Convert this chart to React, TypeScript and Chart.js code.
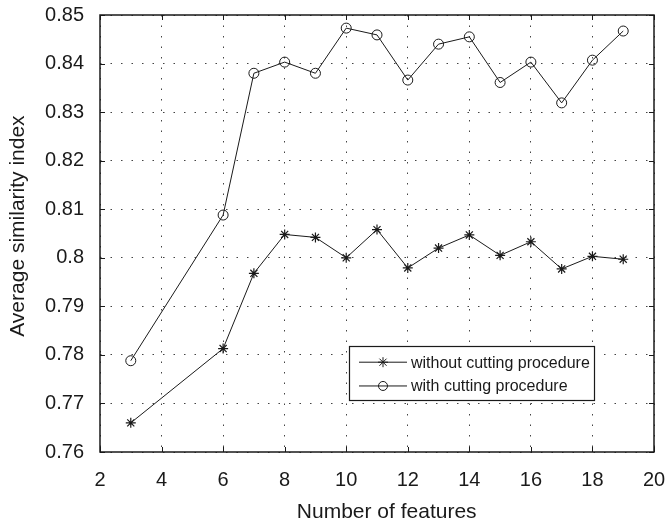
import React, { useEffect, useRef } from "react";
import { Chart, registerables } from "chart.js";

Chart.register(...registerables);

const features = [3, 6, 7, 8, 9, 10, 11, 12, 13, 14, 15, 16, 17, 18, 19];
const withoutCutting = [0.766, 0.7813, 0.7968, 0.8048, 0.8042, 0.8, 0.8058, 0.7979, 0.802, 0.8047, 0.8005, 0.8033, 0.7977, 0.8003, 0.7997];
const withCutting = [0.7788, 0.8088, 0.838, 0.8403, 0.838, 0.8473, 0.8459, 0.8366, 0.844, 0.8455, 0.8361, 0.8403, 0.8319, 0.8407, 0.8467];
const xTicks = [2, 4, 6, 8, 10, 12, 14, 16, 18, 20];
const yTicks = [0.76, 0.77, 0.78, 0.79, 0.8, 0.81, 0.82, 0.83, 0.84, 0.85];
const seriesLabels = ["without cutting procedure", "with cutting procedure"];
const xTitle = "Number of features";
const yTitle = "Average similarity index";

const FONT = "'Liberation Sans', Arial, sans-serif";
const INK = "#1a1a1a";

const boxPlugin = {
  id: "boxTicks",
  afterDatasetsDraw(chart: any) {
    const { ctx, chartArea: a, scales } = chart;
    ctx.save();
    ctx.strokeStyle = INK;
    ctx.lineWidth = 1;
    const tl = 5;
    ctx.beginPath();
    for (const v of xTicks) {
      const x = Math.round(scales.x.getPixelForValue(v)) + 0.5;
      ctx.moveTo(x, a.bottom);
      ctx.lineTo(x, a.bottom - tl);
      ctx.moveTo(x, a.top);
      ctx.lineTo(x, a.top + tl);
    }
    for (const v of yTicks) {
      const y = Math.round(scales.y.getPixelForValue(v)) + 0.5;
      ctx.moveTo(a.left, y);
      ctx.lineTo(a.left + tl, y);
      ctx.moveTo(a.right, y);
      ctx.lineTo(a.right - tl, y);
    }
    ctx.stroke();
    ctx.lineWidth = 1.5;
    ctx.strokeRect(a.left, a.top, a.right - a.left, a.bottom - a.top);
    ctx.restore();
  },
  afterDraw(chart: any) {
    const { ctx, chartArea: a } = chart;
    const w = a.right - a.left;
    const h = a.bottom - a.top;

    // axis titles
    ctx.save();
    ctx.fillStyle = INK;
    ctx.font = `21px ${FONT}`;
    ctx.textAlign = "center";
    ctx.textBaseline = "alphabetic";
    ctx.fillText(xTitle, a.left + w * 0.5175, 518);
    ctx.translate(23.5, a.top + h * 0.483);
    ctx.rotate(-Math.PI / 2);
    ctx.fillText(yTitle, 0, 0);
    ctx.restore();

    // legend
    const bx = Math.round(a.left + w * 0.449);
    const by = Math.round(a.top + h * 0.757);
    const bw = Math.round(w * 0.442);
    const bh = Math.round(h * 0.124);
    ctx.save();
    ctx.fillStyle = "#ffffff";
    ctx.fillRect(bx, by, bw, bh);
    ctx.strokeStyle = INK;
    ctx.lineWidth = 1.2;
    ctx.strokeRect(bx + 0.5, by + 0.5, bw, bh);
    ctx.lineWidth = 1;
    ctx.font = `16px ${FONT}`;
    ctx.fillStyle = INK;
    ctx.textBaseline = "middle";
    const styles = ["star", "circle"];
    chart.data.datasets.forEach((ds: any, i: number) => {
      const y = by + bh * (0.3 + 0.44 * i);
      const x0 = bx + 10;
      const x1 = x0 + 48;
      ctx.beginPath();
      ctx.moveTo(x0, y);
      ctx.lineTo(x1, y);
      ctx.stroke();
      const cx = (x0 + x1) / 2;
      ctx.beginPath();
      if (styles[i] === "circle") {
        ctx.arc(cx, y, 4.5, 0, Math.PI * 2);
      } else {
        const r = 5;
        for (let k = 0; k < 4; k++) {
          const ang = (k * Math.PI) / 4;
          ctx.moveTo(cx - r * Math.cos(ang), y - r * Math.sin(ang));
          ctx.lineTo(cx + r * Math.cos(ang), y + r * Math.sin(ang));
        }
      }
      ctx.stroke();
      ctx.fillText(ds.label, x1 + 4, y + 1);
    });
    ctx.restore();
  },
};

export default function App() {
  const ref = useRef<HTMLCanvasElement>(null);
  useEffect(() => {
    if (!ref.current) return;
    const chart = new Chart(ref.current, {
      type: "line",
      data: {
        datasets: [
          {
            label: seriesLabels[0],
            data: features.map((x, i) => ({ x, y: withoutCutting[i] })),
            borderColor: INK,
            borderWidth: 1,
            pointStyle: "star",
            pointRadius: 5,
            pointBorderColor: INK,
            pointBorderWidth: 1.2,
            pointBackgroundColor: "transparent",
            tension: 0,
          },
          {
            label: seriesLabels[1],
            data: features.map((x, i) => ({ x, y: withCutting[i] })),
            borderColor: INK,
            borderWidth: 1,
            pointStyle: "circle",
            pointRadius: 5,
            pointBorderColor: INK,
            pointBorderWidth: 1,
            pointBackgroundColor: "transparent",
            tension: 0,
          },
        ],
      },
      options: {
        responsive: false,
        animation: false,
        layout: { padding: { top: 15, right: 13, left: 0, bottom: 0 } },
        plugins: { legend: { display: false }, tooltip: { enabled: false } },
        scales: {
          x: {
            type: "linear",
            min: 2,
            max: 20,
            afterBuildTicks: (s: any) => {
              s.ticks = xTicks.map((v) => ({ value: v }));
            },
            afterFit: (s: any) => {
              s.height = 73;
              s.paddingLeft = 0;
              s.paddingRight = 0;
            },
            ticks: {
              color: INK,
              font: { family: FONT, size: 20 },
              padding: 16.5,
              maxRotation: 0,
              autoSkip: false,
            },
            grid: {
              color: "#444",
              lineWidth: 1,
              drawTicks: false,
            },
            border: { display: false, dash: [1.5, 9] },
            title: { display: false, text: xTitle },
          },
          y: {
            type: "linear",
            min: 0.76,
            max: 0.85,
            afterBuildTicks: (s: any) => {
              s.ticks = yTicks.map((v) => ({ value: v }));
            },
            afterFit: (s: any) => {
              s.width = 100;
              s.paddingTop = 0;
              s.paddingBottom = 0;
            },
            ticks: {
              color: INK,
              font: { family: FONT, size: 20 },
              padding: 16,
              autoSkip: false,
              callback: (v: any) => String(Number(Number(v).toFixed(2))),
            },
            grid: {
              color: "#444",
              lineWidth: 1,
              drawTicks: false,
            },
            border: { display: false, dash: [1.5, 9] },
            title: { display: false, text: yTitle },
          },
        },
      },
      plugins: [boxPlugin],
    } as any);
    return () => chart.destroy();
  }, []);
  return (
    <div style={{ position: "fixed", left: 0, top: 0, width: 667, height: 525, background: "#fff" }}>
      <canvas ref={ref} width={667} height={525} />
    </div>
  );
}
